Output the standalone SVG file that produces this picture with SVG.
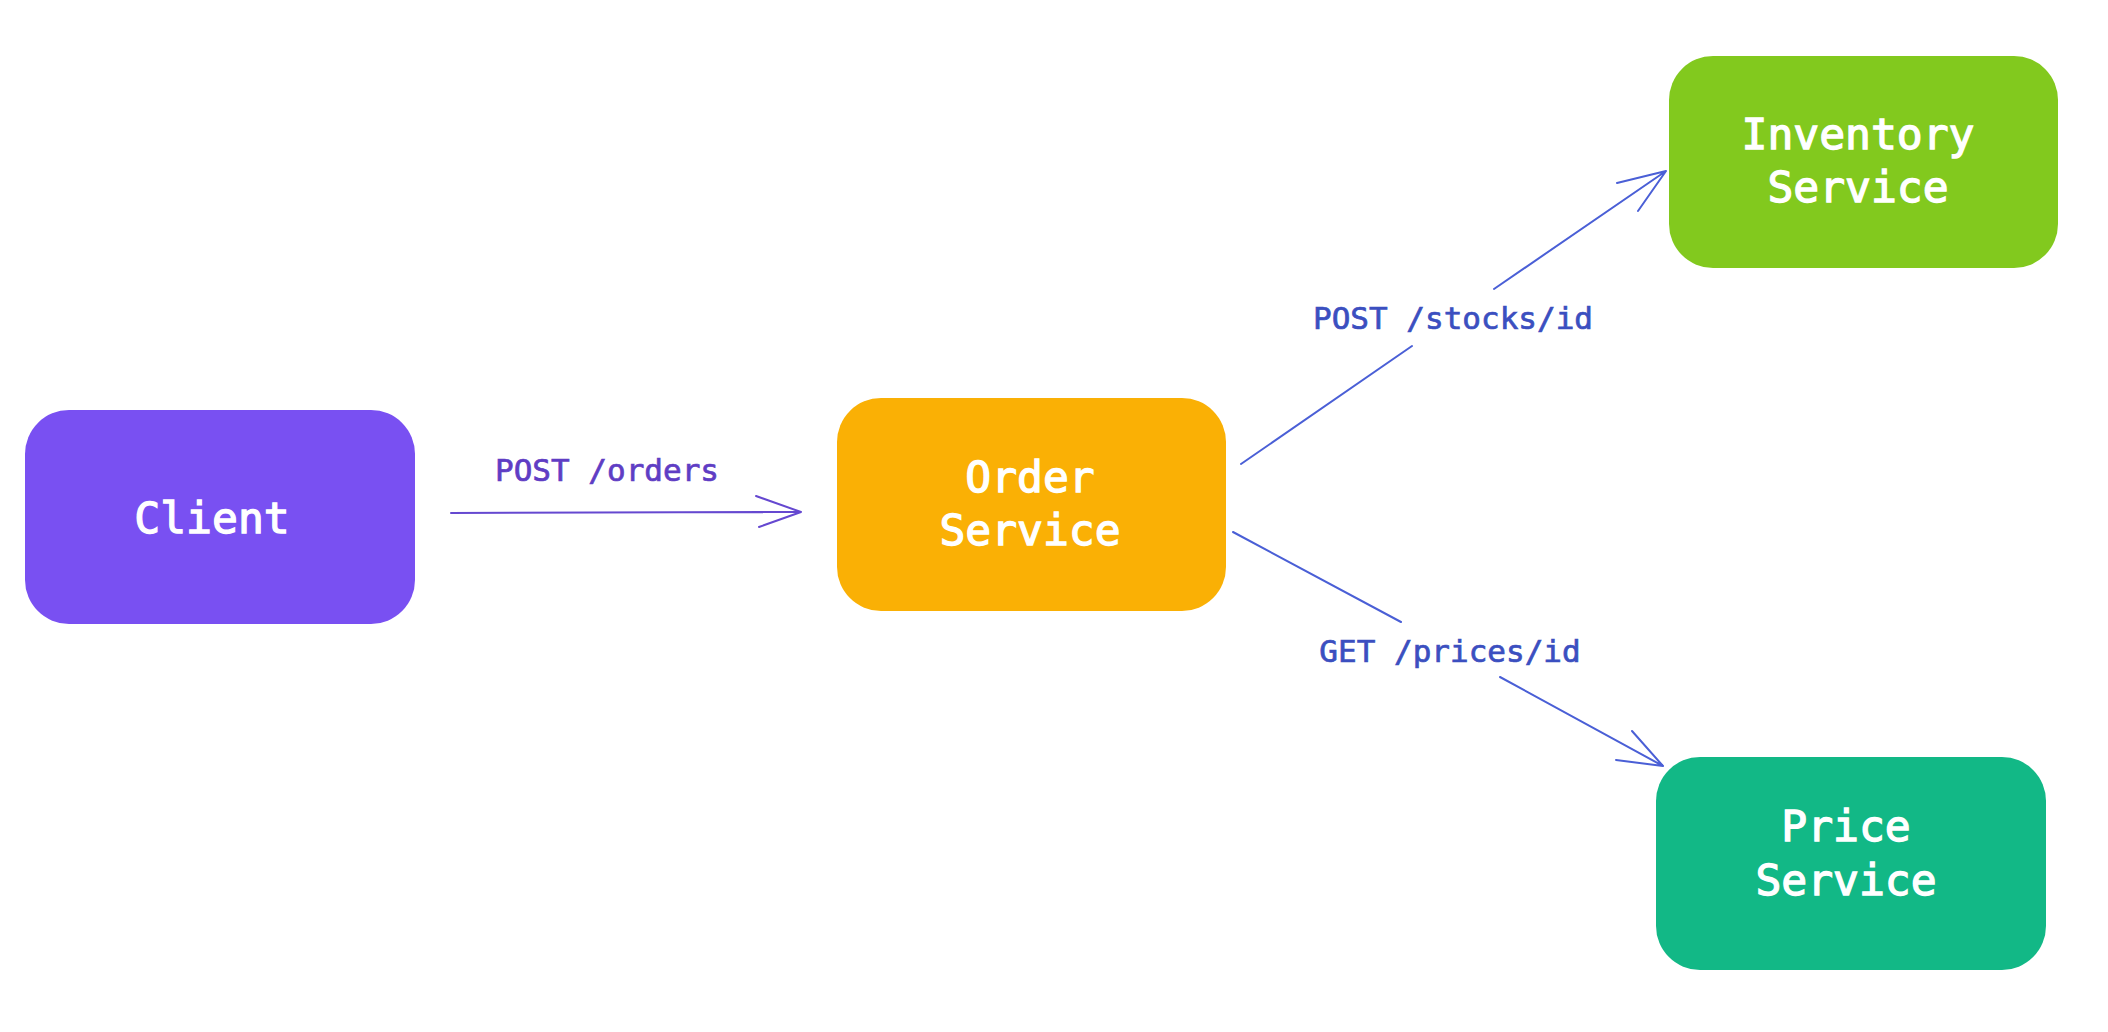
<svg xmlns="http://www.w3.org/2000/svg" width="2108" height="1032" viewBox="0 0 2108 1032">
<style>
.node text{font-family:"DejaVu Sans Mono","Liberation Mono",monospace;font-size:43px;font-weight:normal;fill:#ffffff;stroke:#ffffff;stroke-width:1.3;text-anchor:middle}
.lbl{font-family:"DejaVu Sans Mono","Liberation Mono",monospace;font-size:31px;font-weight:normal;stroke-width:0.7;text-anchor:middle}
.c{fill:none;stroke-width:2;stroke-linecap:round;stroke-linejoin:round}
.purple{stroke:#6548d0}
.blue{stroke:#4a5fd6}
</style>
<rect width="2108" height="1032" fill="#ffffff"/>
<g id="client" class="node">
<rect x="25" y="410" width="390" height="214" rx="44" fill="#7950f2"/>
<text x="212" y="533">Client</text>
</g>
<g id="order-service" class="node">
<rect x="837" y="398" width="389" height="213" rx="44" fill="#fab005"/>
<text x="1030" y="492">Order</text>
<text x="1030" y="545">Service</text>
</g>
<g id="inventory-service" class="node">
<rect x="1669" y="56" width="389" height="212" rx="44" fill="#82c91e"/>
<text x="1858" y="149">Inventory</text>
<text x="1858" y="202">Service</text>
</g>
<g id="price-service" class="node">
<rect x="1656" y="757" width="390" height="213" rx="44" fill="#12b886"/>
<text x="1846" y="841">Price</text>
<text x="1846" y="895">Service</text>
</g>
<g id="connectors">
<path class="c purple" d="M451 513 L801 512 M756 496 L801 512 L759 527"/>
<text class="lbl" x="607" y="481" fill="#5f3dc4" stroke="#5f3dc4">POST /orders</text>
<path class="c blue" d="M1241 464 L1412 346 M1494 289 L1666 171 M1617 183 L1666 171 L1638 211"/>
<text class="lbl" x="1453" y="329" fill="#3b4fc0" stroke="#3b4fc0">POST /stocks/id</text>
<path class="c blue" d="M1233 532 L1401 622 M1500 677 L1663 766 M1632 731 L1663 766 L1616 760"/>
<text class="lbl" x="1450" y="662" fill="#3b4fc0" stroke="#3b4fc0">GET /prices/id</text>
</g>
</svg>
